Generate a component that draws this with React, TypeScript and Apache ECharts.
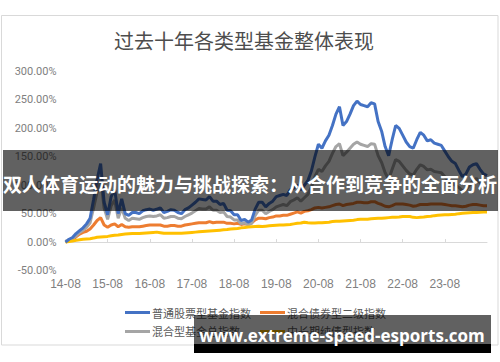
import React, { useEffect, useRef } from "react";
import * as echarts from "echarts";

const title = "过去十年各类型基金整体表现";
const bannerText = "双人体育运动的魅力与挑战探索：从合作到竞争的全面分析";
const watermarkText = "www.extreme-speed-esports.com";

const seriesNames = ["普通股票型基金指数", "混合债券型二级指数", "混合型基金总指数", "中长期纯债型指数"];
const seriesColors = ["#4472C4", "#ED7D31", "#A5A5A5", "#FFC000"];

const startYear = 2014;
const startMonth = 8;
const monthCount = 121;
const categories: string[] = [];
for (let i = 0; i < monthCount; i++) {
  const m = startMonth - 1 + i;
  const y = startYear + Math.floor(m / 12);
  const mm = (m % 12) + 1;
  categories.push(String(y).slice(2) + "-" + String(mm).padStart(2, "0"));
}
const labelledCategories = ["14-08", "15-08", "16-08", "17-08", "18-08", "19-08", "20-08", "21-08", "22-08", "23-08"];

const yTicks = { min: -50, max: 300, interval: 50 };

const stockFund = [
  0, 5, 8, 15, 20,
  25, 32, 42, 75, 110, 138, 70, 48, 80, 92, 50, 76,
  50, 47, 52, 52, 50, 55, 57, 58, 56, 58, 60, 52,
  54, 57, 56, 52, 50, 57, 60, 65, 70, 76, 75, 74,
  80, 72, 72, 66, 68, 56, 55, 48, 48, 38, 40, 35,
  39, 58, 70, 70, 62, 68, 72, 80, 82, 84, 82, 92,
  95, 100, 92, 100, 108, 125, 150, 172, 165, 178, 188, 205,
  225, 238, 205, 212, 225, 240, 248, 242, 240, 238, 245, 243,
  212, 195, 168, 152, 180, 205, 200, 188, 176, 168, 165, 180,
  193, 188, 178, 180, 174, 172, 170, 160, 150, 142, 138, 126,
  115, 120, 132, 136, 138, 128, 120, 117,
];

const bondHybrid = [
  0, 3, 5, 9, 14,
  17, 19, 23, 30, 38, 43, 30, 26, 30, 32, 27, 31,
  27, 26, 27, 27, 27, 28, 29, 30, 30, 30, 30, 28,
  28, 29, 29, 28, 28, 30, 31, 32, 33, 34, 34, 34,
  36, 34, 35, 35, 35, 33, 33, 32, 33, 31, 32, 32,
  34, 39, 42, 42, 41, 43, 44, 46, 46, 47, 47, 49,
  51, 53, 51, 54, 55, 57, 60, 61, 60, 61, 62, 64,
  66, 67, 64, 66, 67, 68, 70, 70, 69, 69, 71, 71,
  68, 66, 63, 62, 64, 67, 67, 67, 66, 65, 63, 64,
  66, 66, 66, 67, 67, 67, 67, 66, 65, 64, 64, 63,
  62, 63, 65, 66, 66, 65, 64, 64,
];

const hybridFund = [
  0, 4, 6, 11, 17,
  21, 26, 34, 60, 88, 112, 60, 40, 64, 74, 42, 60,
  42, 38, 42, 41, 40, 43, 45, 46, 45, 46, 48, 42,
  43, 45, 45, 42, 41, 45, 48, 51, 55, 59, 58, 58,
  62, 56, 56, 52, 53, 45, 44, 39, 39, 32, 34, 30,
  33, 47, 56, 56, 50, 54, 57, 62, 64, 66, 64, 71,
  74, 78, 72, 78, 84, 96, 115, 128, 124, 134, 142, 156,
  168, 173, 152, 158, 165, 172, 176, 172, 170, 168, 173, 172,
  152, 140, 122, 110, 128, 145, 142, 134, 126, 120, 118, 128,
  136, 133, 127, 128, 124, 123, 122, 115, 108, 103, 100, 96,
  90, 92, 100, 108, 112, 104, 98, 96,
];

const pureBond = [
  0, 1, 2, 3, 4,
  5, 5.5, 6, 7, 8.5, 9, 9.5, 10, 11, 12, 12.5, 13.5,
  14, 14.5, 15, 15, 15, 15.5, 16, 16.5, 17, 17.5, 16.5, 15.5,
  15.5, 15.5, 15.5, 15.5, 15.5, 16, 16.5, 17, 17.5, 18, 18.5, 19,
  19.5, 20, 20.5, 21, 21.5, 22, 23, 23.5, 24, 25, 25.5, 26.5,
  27, 27.5, 28, 27.5, 28, 28.5, 29, 29.5, 30, 30, 30.5, 31,
  32, 33, 33.5, 35, 34, 33.5, 33.5, 34, 34, 34.5, 35, 36,
  36.5, 36.5, 37, 37.5, 38, 38.5, 39.5, 40, 40, 40, 41, 41.5,
  42, 42, 42.5, 43, 43.5, 43.5, 44, 45, 45, 45, 43.5, 43,
  43.5, 44, 45, 45.5, 46.5, 47, 47.5, 48, 48, 48.5, 49, 50,
  50.5, 51, 51.5, 52, 52, 52.5, 53, 53,
];

const seriesData = [stockFund, bondHybrid, hybridFund, pureBond];

const CJK = "'Noto Sans CJK SC', sans-serif";

export default function App() {
  const ref = useRef<HTMLDivElement>(null);
  useEffect(() => {
    if (!ref.current) return;
    const chart = echarts.init(ref.current, null, { renderer: "svg" });
    const isLabelled = (i: number) => labelledCategories.indexOf(categories[i]) >= 0;
    const legendCommon = {
      orient: "vertical" as const,
      itemWidth: 25,
      itemHeight: 3,
      itemGap: 8,
      icon: "rect",
      textStyle: { fontSize: 11, color: "#595959", fontFamily: CJK, padding: [0, 0, 0, -3] },
    };
    chart.setOption({
      animation: false,
      backgroundColor: "#ffffff",
      grid: { left: 65.5, right: 13, top: 71.5, bottom: 91.5, containLabel: false },
      xAxis: {
        type: "category",
        data: categories,
        boundaryGap: false,
        axisLine: { lineStyle: { color: "#d9d9d9", width: 1 } },
        axisTick: {
          show: true,
          inside: true,
          length: 3,
          interval: (i: number) => isLabelled(i),
          lineStyle: { color: "#d9d9d9" },
        },
        axisLabel: {
          interval: (i: number) => isLabelled(i),
          fontSize: 12,
          color: "#808080",
          fontFamily: "'Liberation Sans', sans-serif",
          margin: 7,
        },
        splitLine: { show: false },
      },
      yAxis: {
        type: "value",
        min: yTicks.min,
        max: yTicks.max,
        interval: yTicks.interval,
        axisLine: { show: false },
        axisTick: { show: false },
        splitLine: { show: false },
        axisLabel: {
          formatter: (v: number) => v.toFixed(2) + "%",
          fontSize: 11,
          color: "#808080",
          fontFamily: "Roboto, sans-serif",
          margin: 9,
        },
      },
      legend: [
        { ...legendCommon, left: 120, top: 302, data: [seriesNames[0], seriesNames[2]] },
        { ...legendCommon, left: 255, top: 302, data: [seriesNames[1], seriesNames[3]] },
      ],
      series: seriesNames.map((name, i) => ({
        name,
        type: "line",
        data: seriesData[i],
        showSymbol: false,
        symbol: "none",
        smooth: false,
        color: seriesColors[i],
        lineStyle: { color: seriesColors[i], width: 3 },
        z: i === 0 ? 5 : 2 + i * 0.1,
      })),
      graphic: [
        {
          type: "rect",
          z: 0,
          silent: true,
          shape: { x: 1.5, y: 15.5, width: 496.5, height: 329.5 },
          style: { fill: "none", stroke: "#d9d9d9", lineWidth: 1 },
        },
        {
          type: "text",
          z: 10,
          x: 244,
          y: 40,
          style: {
            text: title,
            fontSize: 20,
            fill: "#4d4d4d",
            fontFamily: CJK,
            align: "center",
            verticalAlign: "middle",
          },
        },
        {
          type: "rect",
          z: 100,
          silent: true,
          shape: { x: 3, y: 150, width: 495, height: 61 },
          style: { fill: "rgba(0,0,0,0.62)" },
        },
        {
          type: "text",
          z: 101,
          x: 250,
          y: 183,
          style: {
            text: bannerText,
            fontSize: 19,
            fontWeight: "bold",
            fill: "#ffffff",
            fontFamily: CJK,
            align: "center",
            verticalAlign: "middle",
          },
        },
        {
          type: "rect",
          z: 100,
          silent: true,
          shape: { x: 194, y: 315, width: 297, height: 29 },
          style: { fill: "rgba(0,0,0,0.62)" },
        },
        {
          type: "rect",
          z: 100,
          silent: true,
          shape: { x: 194, y: 344, width: 297, height: 9 },
          style: { fill: "#000000" },
        },
        {
          type: "text",
          z: 101,
          x: 342,
          y: 335,
          style: {
            text: watermarkText,
            fontSize: 17,
            fontWeight: "bold",
            fill: "#ffffff",
            fontFamily: "'Open Sans', sans-serif",
            align: "center",
            verticalAlign: "middle",
          },
        },
      ],
    });
    return () => chart.dispose();
  }, []);
  return (
    <div
      ref={ref}
      style={{ position: "fixed", left: 0, top: 0, width: 500, height: 362, background: "#fff" }}
    />
  );
}
